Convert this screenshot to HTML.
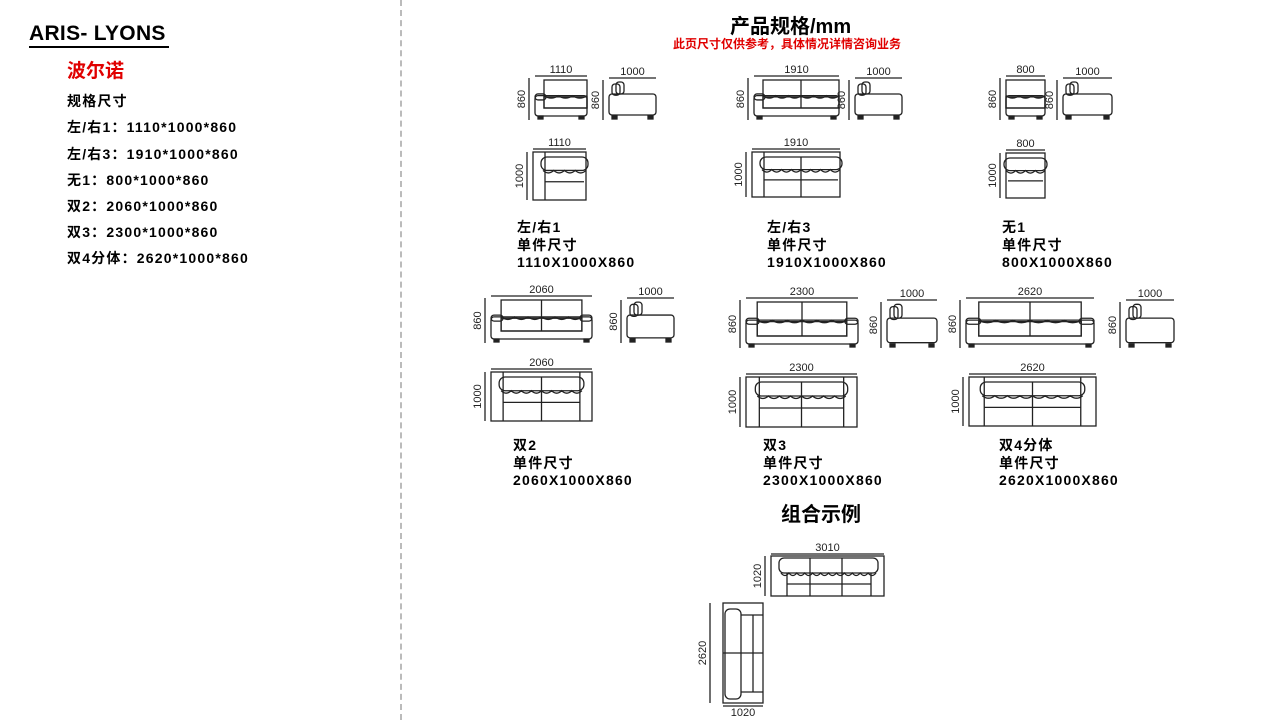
<!DOCTYPE html>
<html><head><meta charset="utf-8"><style>
body{margin:0;width:1280px;height:720px;background:#fff;position:relative;overflow:hidden;font-family:"Liberation Sans","Noto Sans CJK SC",sans-serif;}
.t{position:absolute;font-weight:bold;color:#000;white-space:nowrap;}
.sp{letter-spacing:1.2px}
svg{position:absolute;left:0;top:0}
</style></head><body>
<div class="t" style="left:29px;top:22px;font-size:21px;letter-spacing:0.3px">ARIS- LYONS</div>
<div style="position:absolute;left:29px;top:46px;width:140px;height:2px;background:#000"></div>
<div class="t" style="left:67px;top:56px;font-size:19px;color:#e00000">波尔诺</div>
<div class="t sp" style="left:67px;top:91px;font-size:14px">规格尺寸</div>
<div class="t sp" style="left:67px;top:117px;font-size:14px">左/右1：1110*1000*860</div>
<div class="t sp" style="left:67px;top:144px;font-size:14px">左/右3：1910*1000*860</div>
<div class="t sp" style="left:67px;top:170px;font-size:14px">无1：800*1000*860</div>
<div class="t sp" style="left:67px;top:196px;font-size:14px">双2：2060*1000*860</div>
<div class="t sp" style="left:67px;top:222px;font-size:14px">双3：2300*1000*860</div>
<div class="t sp" style="left:67px;top:248px;font-size:14px">双4分体：2620*1000*860</div>
<div style="position:absolute;left:400px;top:0;height:720px;border-left:2px dashed #bbb"></div>
<div class="t" style="left:730px;top:10px;font-size:20px">产品规格/mm</div>
<div class="t" style="left:673px;top:35px;font-size:12px;color:#e00000">此页尺寸仅供参考，具体情况详情咨询业务</div>

<div class="t sp" style="left:517px;top:219px;font-size:14px;line-height:17.5px">左/右1<br>单件尺寸<br>1110X1000X860</div>
<div class="t sp" style="left:767px;top:219px;font-size:14px;line-height:17.5px">左/右3<br>单件尺寸<br>1910X1000X860</div>
<div class="t sp" style="left:1002px;top:219px;font-size:14px;line-height:17.5px">无1<br>单件尺寸<br>800X1000X860</div>
<div class="t sp" style="left:513px;top:437px;font-size:14px;line-height:17.5px">双2<br>单件尺寸<br>2060X1000X860</div>
<div class="t sp" style="left:763px;top:437px;font-size:14px;line-height:17.5px">双3<br>单件尺寸<br>2300X1000X860</div>
<div class="t sp" style="left:999px;top:437px;font-size:14px;line-height:17.5px">双4分体<br>单件尺寸<br>2620X1000X860</div>
<div class="t" style="left:781px;top:498px;font-size:20px">组合示例</div>

<svg id="s" width="1280" height="720" xmlns="http://www.w3.org/2000/svg"></svg>
<script>
(function(){
var o='';
function L(a,b,c,d){o+='<line x1="'+a+'" y1="'+b+'" x2="'+c+'" y2="'+d+'"/>';}
function R(x,y,w,h,r){o+='<rect x="'+x+'" y="'+y+'" width="'+w+'" height="'+h+'" rx="'+(r||0)+'"/>';}
function T(x,y,s,rot){o+='<text x="'+x+'" y="'+y+'" '+(rot?'transform="rotate(-90 '+x+' '+y+')" ':'')+'text-anchor="middle">'+s+'</text>';}
function hd(x1,x2,y,s){L(x1,y,x2,y);T((x1+x2)/2,y-3,s);}
function vd(x,y1,y2,s){L(x,y1,x,y2);T(x-4,(y1+y2)/2,s,1);}
function scal(x1,x2,y,n){var d='M'+x1+' '+y;var st=(x2-x1)/n;for(var i=0;i<n;i++){d+=' q'+(st/2)+' 5 '+st+' 0';}o+='<path d="'+d+'"/>';}
function front(x,y,w,h,lab,arms,seats){
 hd(x,x+w,y-2,lab);vd(x-6,y,y+h,'860');
 var aw=Math.max(9,w*0.1), bot=y+h-4;
 var il=arms[0]?x+aw:x, ir=arms[1]?x+w-aw:x+w;
 R(il,y+2,ir-il,bot-y-2-8);
 R(il,y+h*0.45,ir-il,bot-8-(y+h*0.45));
 scal(il,ir,y+h*0.42,seats*3);
 for(var i=1;i<seats;i++){var sx=il+(ir-il)*i/seats;L(sx,y+2,sx,bot-8);}
 R(x,y+h*0.42,w,bot-(y+h*0.42),3);
 if(arms[0])R(x,y+h*0.38,aw+2,6,3);
 if(arms[1])R(x+w-aw-2,y+h*0.38,aw+2,6,3);
 o+='<rect x="'+(x+3)+'" y="'+bot+'" width="5" height="3" fill="#222"/><rect x="'+(x+w-8)+'" y="'+bot+'" width="5" height="3" fill="#222"/>';
}
function side(x,y,w,h){
 hd(x,x+w,y-2,'1000');vd(x-6,y,y+h,'860');
 R(x,y+h*0.35,w,h*0.6-3,3);
 R(x+3,y+h*0.1,8,h*0.28,3);R(x+7,y+h*0.05,8,h*0.3,3);
 o+='<rect x="'+(x+3)+'" y="'+(y+h-4)+'" width="5" height="3" fill="#222"/><rect x="'+(x+w-8)+'" y="'+(y+h-4)+'" width="5" height="3" fill="#222"/>';
}
function topv(x,y,w,h,lab,arms,seats,dl){
 hd(x,x+w,y-3,lab);vd(x-6,y,y+h,dl||'1000');
 R(x,y,w,h);
 var aw=Math.max(12,w*0.12);
 var il=arms[0]?x+aw:x+2, ir=arms[1]?x+w-aw:x+w-2;
 if(arms[0])L(x+aw,y,x+aw,y+h);if(arms[1])L(x+w-aw,y,x+w-aw,y+h);
 R(il-4,y+5,ir-il+8,h*0.28,6);
 scal(il-2,ir+2,y+5+h*0.28,seats*4);
 L(il,y+h*0.62,ir,y+h*0.62);
 for(var i=1;i<seats;i++){var sx=il+(ir-il)*i/seats;L(sx,y+5,sx,y+h);}
}
front(535,78,52,42,'1110',[1,0],1); side(609,80,47,40);
topv(533,152,53,48,'1110',[1,0],1);
front(754,78,85,42,'1910',[1,0],2); side(855,80,47,40);
topv(752,152,88,45,'1910',[1,0],2);
front(1006,78,39,42,'800',[0,0],1); side(1063,80,49,40);
topv(1006,153,39,45,'800',[0,0],1);
front(491,298,101,45,'2060',[1,1],2); side(627,300,47,43);
topv(491,372,101,49,'2060',[1,1],2);
front(746,300,112,48,'2300',[1,1],2); side(887,302,50,46);
topv(746,377,111,50,'2300',[1,1],2);
front(966,300,128,48,'2620',[1,1],2); side(1126,302,48,46);
topv(969,377,127,49,'2620',[1,1],2);
hd(771,884,554,'3010');vd(765,556,596,'1020');
R(771,556,113,40);R(779,558,99,15,5);scal(781,876,573,12);L(787,584,871,584);L(787,573,787,596);L(871,573,871,596);L(810,558,810,596);L(842,558,842,596);
vd(710,603,703,'2620');L(723,706,763,706);T(743,716,'1020');
R(723,603,40,100);R(725,609,16,90,5);L(741,615,763,615);L(741,692,763,692);L(753,615,753,692);L(723,653,763,653);
document.getElementById('s').innerHTML='<g fill="none" stroke="#222" stroke-width="1.3" font-family="Liberation Sans, sans-serif" font-size="11">'+o.replace(/<text /g,'<text fill="#222" stroke="none" ')+'</g>';
})();
</script>
</body></html>
